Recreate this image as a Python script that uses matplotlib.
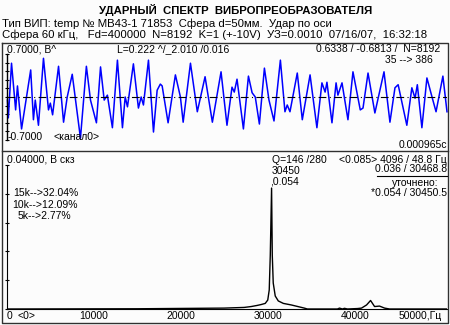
import matplotlib.pyplot as plt
import numpy as np

plt.rcParams['font.family'] = ['Liberation Sans', 'DejaVu Sans']

# channel 0 time record: time, us and voltage, V
t_us = [2, 4, 11, 20, 24, 33, 53, 59, 63, 70, 81, 92, 96, 101, 114, 125, 133, 144,
        162, 175, 184, 197, 206, 214, 221, 232, 243, 254, 260, 265, 278, 289, 295,
        300, 311, 322, 330, 337, 341, 354, 370, 381, 387, 403, 418, 435, 451, 470,
        483, 494, 499, 505, 519, 530, 538, 545, 554, 565, 575, 586, 600, 610, 615,
        621, 637, 648, 665, 680, 691, 698, 702, 713, 722, 726, 735, 748, 759, 775,
        781, 792, 807, 827, 840, 851, 858, 877, 888, 895, 900, 910, 921, 934, 941,
        956, 965]
volts = [-0.05, -0.34, 0.55, -0.21, 0.18, -0.52, 0.44, -0.37, -0.05, -0.46, 0.63,
         -0.21, -0.10, -0.29, 0.50, -0.41, 0.00, 0.37, -0.67, 0.50, -0.05, -0.42,
         0.49, -0.05, 0.03, -0.50, 0.60, -0.50, 0.00, -0.16, 0.54, -0.18, 0.00,
         -0.13, 0.60, -0.57, 0.11, 0.21, 0.18, -0.42, 0.36, 0.00, -0.41, 0.55,
         -0.24, 0.33, -0.41, 0.41, -0.46, 0.16, 0.08, 0.29, -0.52, 0.34, 0.07,
         0.00, -0.44, 0.47, -0.05, -0.39, 0.60, -0.24, -0.13, -0.24, 0.39, -0.37,
         0.36, -0.50, 0.23, 0.08, 0.24, -0.42, 0.23, 0.03, 0.23, -0.37, 0.41,
         -0.21, -0.18, 0.39, -0.26, 0.41, -0.41, 0.15, 0.20, -0.46, 0.15, -0.02,
         0.20, -0.50, 0.31, -0.05, -0.24, 0.34, -0.24]

# rms spectrum: frequency, Hz and level, V
freq_hz = [0, 14980, 25000, 27300, 28110, 28800, 29260, 29720, 30010, 30180, 30300,
           30450, 30530, 30640, 30870, 31220, 31800, 32720, 34210, 34560, 38020,
           38250, 38590, 38820, 39170, 40320, 40780, 41360, 41820, 42280, 42850,
           43430, 44000, 50600]
amp_v = [0, 0.0001, 0.0004, 0.0007, 0.0011, 0.0016, 0.0020, 0.0025, 0.0040, 0.0085,
         0.0240, 0.054, 0.0240, 0.0116, 0.0058, 0.0036, 0.0025, 0.0018, 0.0004, 0,
         0, 0.0004, 0, 0.0003, 0, 0.0002, 0.0004, 0.0018, 0.0038, 0.0011, 0.0013,
         0.0004, 0, 0]

freq_ticks = [10000, 20000, 30000, 40000]

W, H = 450, 325
fig = plt.figure(figsize=(W / 100, H / 100), dpi=100)
fig.patch.set_facecolor('#fcfcfc')


def px_axes(x0, y0, x1, y1):
    return fig.add_axes([x0 / W, 1 - y1 / H, (x1 - x0) / W, (y1 - y0) / H])


fs = 7.5

# --- time record ---
ax1 = px_axes(6.5, 54, 447, 140)
ax1.set_facecolor('none')
ax1.plot(t_us, volts, color='#0000ff', lw=1.1, clip_on=False)
ax1.axhline(0, color='black', lw=0.8, ls=(0, (7, 3, 1, 3)))
ax1.set_xlim(0, 965)
ax1.set_ylim(-0.7, 0.7)
for s in ['top', 'right', 'bottom']:
    ax1.spines[s].set_visible(False)
ax1.spines['left'].set_linewidth(1)
ax1.set_xticks([])
ax1.set_yticks(np.linspace(-0.7, 0.7, 11))
ax1.tick_params(axis='y', length=2.5, direction='inout', width=0.8, labelleft=False)

# --- spectrum ---
ax2 = px_axes(6.5, 165, 447, 309)
ax2.set_facecolor('none')
ax2.plot(freq_hz, amp_v, color='black', lw=1)
ax2.set_xlim(0, 50600)
ax2.set_ylim(0, 0.0643)
for s in ['top', 'right']:
    ax2.spines[s].set_visible(False)
ax2.set_xticks(freq_ticks)
ax2.set_xticklabels([str(f) for f in freq_ticks], fontsize=fs)
ax2.tick_params(axis='x', length=0, pad=1.5)
ax2.set_yticks(np.linspace(0, 0.0643, 6))
ax2.tick_params(axis='y', length=2.5, direction='inout', width=0.8, labelleft=False)

# --- frame and captions in pixel space ---
ov = fig.add_axes([0, 0, 1, 1])
ov.set_xlim(0, W)
ov.set_ylim(H, 0)
ov.axis('off')
ov.set_facecolor('none')
ov.plot([2, 448, 448, 2, 2], [43, 43, 323, 323, 43], color='#303030', lw=1)
ov.plot([2, 448], [151, 151], color='#303030', lw=1)


def put(x, y, s, ha='left', **kw):
    ov.text(x, y, s, ha=ha, va='top', fontsize=kw.pop('size', fs), **kw)


put(236, 4, 'УДАРНЫЙ  СПЕКТР  ВИБРОПРЕОБРАЗОВАТЕЛЯ', ha='center',
    size=8.2, fontweight='bold')
put(2, 18.5, 'Тип ВИП: temp № МВ43-1 71853  Сфера d=50мм.  Удар по оси', size=8.2)
put(2, 30, 'Сфера 60 кГц,   Fd=400000  N=8192  K=1 (+-10V)  УЗ=0.0010  07/16/07,  16:32:18',
    size=8.2)

put(7, 44, '0.7000, В^')
put(117, 44, 'L=0.222 ^/_2.010 /0.016')
put(440, 44, '0.6338 / -0.6813 /  N=8192', ha='right')
put(433, 55, '35 --> 386', ha='right')
put(8, 132, '-0.7000')
put(53, 132, '<канал0>')
put(447, 140, '0.000965c', ha='right')

put(7, 155, '0.04000, В скз')
put(13, 188, '15k-->32.04%')
put(12, 200, '10k-->12.09%')
put(18, 211, '5k-->2.77%')
put(272, 155, 'Q=146 /280')
put(447, 155, '<0.085> 4096 / 48.8 Гц', ha='right')
put(272, 166, '30450')
put(447, 164.5, '0.036 / 30468.8', ha='right')
ov.plot([377, 447], [176, 176], color='black', lw=0.8)
put(270, 177, ',0.054')
put(438, 178.5, 'уточнено:', ha='right')
put(447, 188, '*0.054 / 30450.5', ha='right')

put(7, 311, '0')
put(18, 311, '<0>')
put(442, 311, '50000,Гц', ha='right')

fig.savefig('out.png', dpi=100, facecolor=fig.get_facecolor())
